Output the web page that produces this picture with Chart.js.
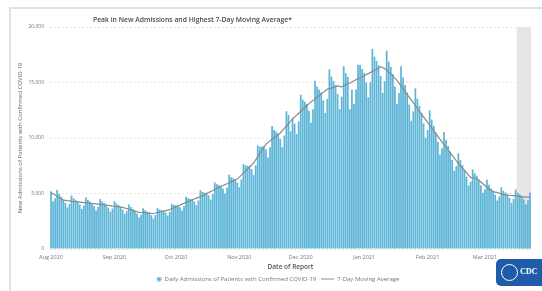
<!DOCTYPE html>
<html>
<head>
<meta charset="utf-8">
<script src="https://cdn.jsdelivr.net/npm/chart.js@4.4.0/dist/chart.umd.min.js"></script>
<style>
  body { margin: 0; background: #fff; width: 542px; height: 291px; overflow: hidden; font-family: 'Open Sans', sans-serif; }
  #frame { position: absolute; left: 9px; top: 7px; right: 0; bottom: 0; border-top: 2px solid #d7e5e5; border-left: 2px solid #d7e5e5; }
  #chart { position: absolute; left: 0; top: 0; }
  #title { position: absolute; left: 93px; top: 15px; font-size: 6.8px; font-weight: 600; color: #4a4a4a; white-space: nowrap; }
  #cdc { position: absolute; left: 496px; top: 259px; width: 46px; height: 27px; background: #1f5ba8; border-radius: 5px 0 0 5px;
         color: #fff; font: bold 8px 'Liberation Serif', serif; }
  #cdc .ring { position: absolute; left: 5px; top: 5px; width: 15px; height: 15px; border: 1.5px solid #fff; border-radius: 50%; }
  #cdc .txt { position: absolute; left: 24px; top: 8px; }
</style>
</head>
<body>
<div id="frame"></div>
<canvas id="chart" width="542" height="291"></canvas>
<div id="title">Peak in New Admissions and Highest 7-Day Moving Average*</div>
<div id="cdc"><div class="ring"></div><div class="txt">CDC</div></div>
<script>
// Daily new admissions, Aug 1 2020 - Mar 23 2021 (one row per week, Sat..Fri)
const dailyAdmissions = [
  5200, 4280, 4580, 5320, 4950, 4700, 4440,
  4160, 3740, 4070, 4820, 4580, 4430, 4280,
  4010, 3610, 3930, 4660, 4430, 4280, 4140,
  3880, 3490, 3800, 4500, 4280, 4140, 3990,
  3720, 3350, 3640, 4310, 4090, 3950, 3810,
  3560, 3170, 3420, 4010, 3780, 3610, 3440,
  3190, 2840, 3090, 3660, 3490, 3370, 3260,
  3050, 2750, 3050, 3680, 3560, 3500, 3450,
  3290, 3010, 3340, 4070, 3970, 3950, 3920,
  3760, 3470, 3870, 4700, 4580, 4520, 4470,
  4280, 3940, 4370, 5300, 5140, 5090, 5040,
  4830, 4450, 4950, 6000, 5840, 5770, 5690,
  5430, 4990, 5530, 6690, 6470, 6380, 6280,
  5990, 5570, 6260, 7660, 7520, 7500, 7460,
  7190, 6670, 7550, 9320, 9200, 9240, 9260,
  8980, 8250, 9160, 11070, 10720, 10570, 10410,
  9930, 9170, 10220, 12410, 12070, 10600, 11820,
  11290, 10360, 11500, 13890, 13460, 13260, 13060,
  12450, 11390, 12590, 15150, 14640, 14370, 14110,
  13400, 12260, 13540, 16180, 15520, 15140, 14770,
  13970, 12600, 13720, 16460, 15840, 15500, 12600,
  14350, 13070, 14380, 16600, 16590, 16220, 15860,
  15010, 13670, 15040, 18030, 17330, 16950, 16560,
  15580, 14060, 15140, 17860, 16880, 16410, 15760,
  14630, 13070, 14050, 16460, 15460, 14770, 14080,
  13010, 11550, 12390, 14470, 13550, 12900, 12270,
  11310, 10020, 10720, 12490, 11660, 11080, 10500,
  9640, 8510, 9080, 10540, 9810, 9280, 8770,
  8020, 7040, 7470, 8620, 8010, 7570, 7150,
  6530, 5730, 6060, 7170, 6820, 6600, 6250,
  5740, 5060, 5380, 6230, 5790, 5460, 5240,
  4870, 4370, 4720, 5560, 5240, 5080, 4910,
  4600, 4150, 4510, 5350, 5090, 4930, 4770,
  4470, 4020, 4390, 5100
];

// 7-day moving average
const movingAverage = [
  5100, 4980, 4870, 4750, 4630, 4520, 4400,
  4380, 4350, 4330, 4300, 4280, 4260, 4240, 4220, 4200,
  4180, 4160, 4140, 4120, 4100, 4080, 4060, 4040, 4020, 4000,
  3980, 3950, 3920, 3900, 3870, 3850, 3820, 3800, 3770, 3750,
  3690, 3640, 3580, 3530, 3470, 3410, 3360, 3300,
  3290, 3270, 3260, 3240, 3230, 3210, 3200,
  3240, 3290, 3330, 3370, 3420, 3460, 3500, 3550,
  3630, 3710, 3800, 3880, 3960, 4040, 4120, 4200,
  4280, 4350, 4430, 4500, 4580, 4650, 4730, 4800,
  4890, 4990, 5080, 5180, 5270, 5360, 5460, 5550,
  5630, 5720, 5800, 5880, 5970, 6050, 6130, 6220, 6300,
  6480, 6660, 6840, 7030, 7210, 7390, 7570, 7750,
  8030, 8320, 8600, 8880, 9170, 9450,
  9590, 9740, 9880, 10020, 10160, 10310, 10450,
  10660, 10870, 11080, 11280, 11490, 11700,
  11880, 12050, 12230, 12400, 12580, 12750, 12930, 13100,
  13240, 13390, 13530, 13680, 13820, 13970, 14110, 14260, 14400,
  14450, 14500, 14560, 14620, 14700, 14650, 14600, 14700, 14800, 14900,
  14950, 15050, 15150, 15250, 15350, 15430, 15500,
  15600, 15700, 15800, 15900, 16000, 16100, 16200, 16300, 16400,
  16350, 16250, 16100, 15950, 15780, 15600, 15400, 15200, 14950, 14700,
  14450, 14200, 13940, 13690, 13430, 13180, 12920, 12660, 12400,
  12150, 11900, 11650, 11400, 11150, 10900, 10650, 10400, 10150, 9900,
  9660, 9410, 9170, 8920, 8680, 8440, 8190, 7950, 7700,
  7490, 7280, 7080, 6870, 6660, 6450,
  6400, 6370, 6350,
  6190, 6040, 5880, 5720, 5560, 5410, 5250,
  5190, 5130, 5080, 5020, 4960, 4900,
  4880, 4860, 4840, 4820, 4800, 4780, 4760, 4740, 4720, 4700, 4680, 4670, 4660
];

const yTicks = [0, 5000, 10000, 15000, 20000];
const monthNames = ['Jan', 'Feb', 'Mar', 'Apr', 'May', 'Jun', 'Jul', 'Aug', 'Sep', 'Oct', 'Nov', 'Dec'];
const startDate = '2020-08-01';
const incompleteFrom = '2021-03-17'; // grey band: data still coming in

const barColor = '#5db5d7';
const lineColor = '#8a8a8a';

// one label per day of report
const dates = [];
const d0 = new Date(startDate + 'T00:00:00Z');
for (let i = 0; i < dailyAdmissions.length; i++) {
  const d = new Date(d0.getTime() + i * 86400000);
  dates.push(d.toISOString().slice(0, 10));
}

// small legend markers: dot for the bars, short stroke for the line
function marker(kind) {
  const c = document.createElement('canvas');
  c.width = 13; c.height = 5;
  const g = c.getContext('2d');
  if (kind === 'dot') {
    g.fillStyle = barColor;
    g.beginPath(); g.arc(10.5, 2.5, 2.2, 0, Math.PI * 2); g.fill();
  } else {
    g.strokeStyle = lineColor; g.lineWidth = 1;
    g.beginPath(); g.moveTo(0, 2.5); g.lineTo(13, 2.5); g.stroke();
  }
  return c;
}
const markers = [marker('dot'), marker('line')];

// grey band behind the most recent days
const shadePlugin = {
  id: 'shade',
  beforeDatasetsDraw(chart) {
    const x = chart.scales.x;
    const area = chart.chartArea;
    const idx = dates.indexOf(incompleteFrom);
    const half = (x.getPixelForValue(1) - x.getPixelForValue(0)) / 2;
    const left = x.getPixelForValue(idx) - half;
    const ctx = chart.ctx;
    ctx.save();
    ctx.fillStyle = '#e6e6e6';
    ctx.fillRect(left, area.top, area.right - left, area.bottom - area.top);
    ctx.restore();
  }
};

const chart = new Chart(document.getElementById('chart').getContext('2d'), {
  type: 'bar',
  data: {
    labels: dates,
    datasets: [{
      label: 'Daily Admissions of Patients with Confirmed COVID-19',
      data: dailyAdmissions,
      backgroundColor: barColor,
      barPercentage: 0.85,
      categoryPercentage: 1,
      order: 2
    }, {
      type: 'line',
      label: '7-Day Moving Average',
      data: movingAverage,
      borderColor: lineColor,
      backgroundColor: lineColor,
      borderWidth: 1.2,
      pointRadius: 0,
      tension: 0,
      order: 1
    }]
  },
  options: {
    responsive: false,
    animation: false,
    layout: { padding: { left: 17, right: 11, top: 27, bottom: 0 } },
    plugins: {
      tooltip: { enabled: false },
      legend: {
        position: 'bottom',
        labels: {
          usePointStyle: true,
          pointStyleWidth: 13,
          font: { family: 'Open Sans', size: 6 },
          color: '#777',
          padding: 5,
          sort: (a, b) => a.datasetIndex - b.datasetIndex,
          generateLabels(chart) {
            const items = Chart.defaults.plugins.legend.labels.generateLabels(chart);
            items.forEach(it => { it.pointStyle = markers[it.datasetIndex]; });
            return items;
          }
        }
      }
    },
    scales: {
      x: {
        afterFit(axis) { axis.height = 22; },
        grid: { display: false, drawTicks: false },
        border: { display: false },
        ticks: {
          autoSkip: false,
          maxRotation: 0,
          padding: 5,
          font: { family: 'Open Sans', size: 5.5 },
          color: '#777',
          callback(val) {
            const l = this.getLabelForValue(val);
            if (!l.endsWith('-01')) return '';
            return monthNames[+l.slice(5, 7) - 1] + ' ' + l.slice(0, 4);
          }
        },
        title: { display: true, text: 'Date of Report', font: { family: 'Open Sans', size: 6.5, weight: '600' }, color: '#555', padding: { top: 2, bottom: 0 } }
      },
      y: {
        min: yTicks[0],
        max: yTicks[yTicks.length - 1],
        afterFit(axis) { axis.width = 33; },
        afterBuildTicks(axis) { axis.ticks = yTicks.map(v => ({ value: v })); },
        grid: { color: '#e6e6e6', drawTicks: false },
        border: { display: false, dash: [2, 2] },
        ticks: {
          padding: 6,
          font: { family: 'Open Sans', size: 5 },
          color: '#777',
          callback: v => v.toLocaleString('en-US')
        },
        title: { display: true, text: 'New Admissions of Patients with Confirmed COVID-19', font: { family: 'Open Sans', size: 6 }, color: '#666', padding: 0 }
      }
    }
  },
  plugins: [shadePlugin]
});

// keep the legend strip compact so the plot reaches down like the original
const legendFit = chart.legend.fit;
chart.legend.fit = function () { legendFit.call(this); this.height = 20; };
chart.update();
</script>
</body>
</html>
